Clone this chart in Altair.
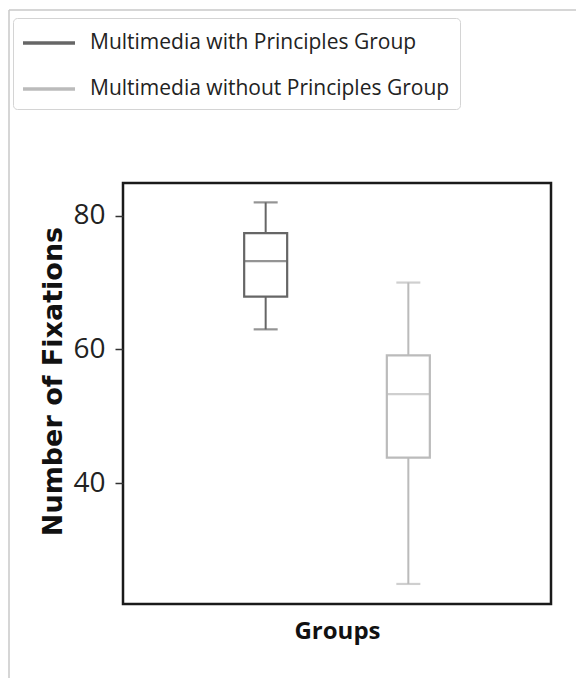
import altair as alt
import pandas as pd

groups = ["Multimedia with Principles Group", "Multimedia without Principles Group"]
whisker_low = [63.0, 24.9]
q1 = [67.9, 43.8]
median = [73.2, 53.3]
q3 = [77.4, 59.1]
whisker_high = [82.0, 70.0]
colors = ["#666666", "#bbbbbb"]
y_ticks = [40, 60, 80]

df = pd.DataFrame({
    "group": groups,
    "low": whisker_low,
    "q1": q1,
    "median": median,
    "q3": q3,
    "high": whisker_high,
})

xenc = alt.X("group:N", sort=groups,
             scale=alt.Scale(paddingInner=0, paddingOuter=0.5),
             axis=alt.Axis(title="Groups", labels=False, ticks=False, domain=False,
                           titleFont="Open Sans", titleFontSize=24,
                           titleFontWeight="bold", titleColor="#111111", titlePadding=15))
yscale = alt.Scale(domain=[21.9, 84.9], nice=False, zero=False)
yaxis = alt.Axis(title="Number of Fixations", values=y_ticks, grid=False, domain=False,
                 tickSize=8, tickColor="#333333", tickWidth=1.5,
                 labelFont="Open Sans", labelFontSize=28, labelColor="#222222",
                 labelPadding=10,
                 titleFont="DejaVu Sans", titleFontSize=27, titleFontWeight="bold",
                 titleColor="#111111", titleX=-62, titleY=198, titleBaseline="alphabetic")
color = alt.Color("group:N", sort=groups, scale=alt.Scale(domain=groups, range=colors),
                  legend=alt.Legend(title=None, orient="none", legendX=-110, legendY=-165,
                                    symbolType="M-2,0H2", symbolSize=676, symbolStrokeWidth=3.5,
                                    symbolOpacity=1, symbolOffset=11,
                                    labelFont="Open Sans", labelFontSize=21,
                                    labelColor="#222222", labelOffset=26, rowPadding=21,
                                    labelLimit=500,
                                    strokeColor="#d4d4d4", cornerRadius=4, padding=10,
                                    fillColor="white"))

base = alt.Chart(df)

whisk = base.mark_rule(strokeWidth=2).encode(
    x=xenc, y=alt.Y("low:Q", scale=yscale, axis=yaxis), y2="high:Q", color=color)
box = base.mark_bar(size=43, fill="white", strokeWidth=2.2).encode(
    x=xenc, y=alt.Y("q1:Q", scale=yscale), y2="q3:Q", stroke=color)
med = base.mark_tick(size=43, thickness=2.2).encode(
    x=xenc, y=alt.Y("median:Q", scale=yscale), color=color)
cap_lo = base.mark_tick(size=24, thickness=2.2).encode(
    x=xenc, y=alt.Y("low:Q", scale=yscale), color=color)
cap_hi = base.mark_tick(size=24, thickness=2.2).encode(
    x=xenc, y=alt.Y("high:Q", scale=yscale), color=color)

# image border (decorative)
border_v = alt.Chart(pd.DataFrame({"a": [0]})).mark_rule(color="#c8c8c8", strokeWidth=1.5).encode(
    x=alt.value(-114), y=alt.value(-173), y2=alt.value(510))
border_h = alt.Chart(pd.DataFrame({"a": [0]})).mark_rule(color="#c8c8c8", strokeWidth=1.5).encode(
    x=alt.value(-114), x2=alt.value(453), y=alt.value(-173))

chart = alt.layer(border_v, border_h, whisk, box, med, cap_lo, cap_hi).properties(
    width=428, height=421,
    background="white",
    autosize=alt.AutoSizeParams(type="none"),
    padding={"left": 115, "top": 175, "right": 25, "bottom": 74},
).configure_view(stroke="#1a1a1a", strokeWidth=2.5)

chart.save("out.html", embed_options={"renderer": "svg", "actions": False})
